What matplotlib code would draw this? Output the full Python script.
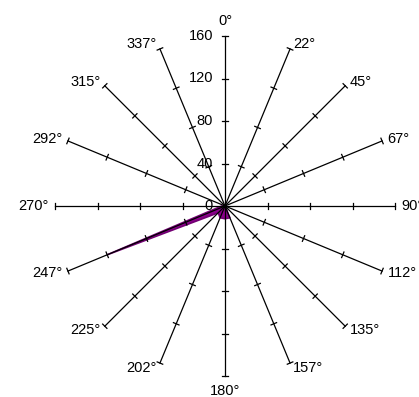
import numpy as np
import matplotlib
matplotlib.use("Agg")
import matplotlib.pyplot as plt

plt.rcParams['font.family'] = ['Liberation Sans', 'DejaVu Sans']

# Compass directions (degrees) and their labels
directions = [0, 22.5, 45, 67.5, 90, 112.5, 135, 157.5, 180,
              202.5, 225, 247.5, 270, 292.5, 315, 337.5]
dir_labels = ["0°", "22°", "45°", "67°", "90°", "112°", "135°", "157°", "180°",
              "202°", "225°", "247°", "270°", "292°", "315°", "337°"]
# Value per direction
values = [0, 0, 0, 0, 0, 0, 0, 12, 12, 12, 9, 120, 3, 0, 0, 0]
# Radial scale
r_ticks = [0, 40, 80, 120, 160]
r_max = 160

W, H = 419, 397
cx, cy = 225, 206          # centre in pixels
rad_px = 170               # pixel length of a full spoke
s = rad_px / r_max         # pixels per unit

fig = plt.figure(figsize=(W / 100, H / 100), dpi=100)
ax = fig.add_axes([0, 0, 1, 1])
ax.set_xlim(-cx / s, (W - cx) / s)
ax.set_ylim(-(H - cy) / s, cy / s)
ax.axis('off')

th = np.radians(directions)
ux, uy = np.sin(th), np.cos(th)

# Filled data polygon
vals = np.array(values, dtype=float)
ax.fill(vals * ux, vals * uy, facecolor='#8b008b', edgecolor='#730073',
        linewidth=1.2, joinstyle='round', zorder=1)

tick_half = 3.0 / s
for i, d in enumerate(directions):
    ax.plot([0, r_max * ux[i]], [0, r_max * uy[i]], color='black',
            linewidth=0.9, zorder=2)
    px, py = uy[i], -ux[i]  # perpendicular
    for t in r_ticks[1:]:
        x0, y0 = t * ux[i], t * uy[i]
        ax.plot([x0 - tick_half * px, x0 + tick_half * px],
                [y0 - tick_half * py, y0 + tick_half * py],
                color='black', linewidth=0.9, zorder=2)
    # Direction labels
    lr = r_max + 5 / s
    lx, ly = lr * ux[i], lr * uy[i]
    if d in (0, 180):
        ax.text(lx, ly + (10 if d == 0 else -10) / s, dir_labels[i],
                ha='center', va='center', fontsize=10.5, zorder=3)
    elif ux[i] > 0:
        ax.text(lx + 1 / s, ly, dir_labels[i], ha='left', va='center',
                fontsize=10.5, zorder=3)
    else:
        ax.text(lx - 1 / s, ly, dir_labels[i], ha='right', va='center',
                fontsize=10.5, zorder=3)

# Radial value labels along the north spoke
for t in r_ticks:
    ax.text(-12 / s, t, str(t), ha='right', va='center', fontsize=10.5,
            zorder=3)

fig.savefig("out.png", dpi=100)
